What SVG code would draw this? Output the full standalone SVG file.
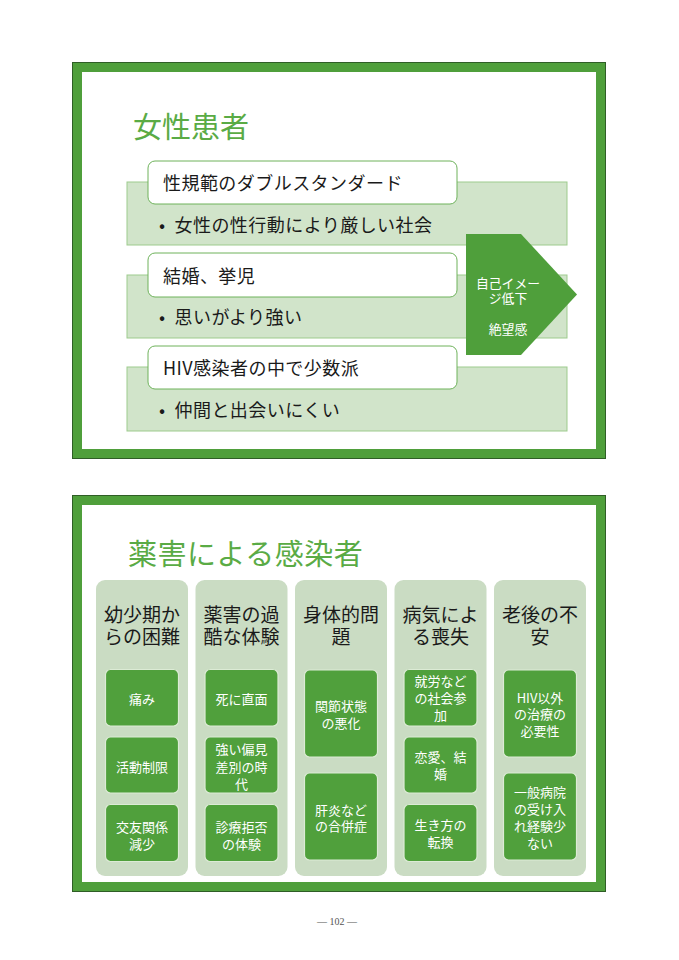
<svg xmlns="http://www.w3.org/2000/svg" width="679" height="960" viewBox="0 0 679 960">
<style>
text{font-family:"Noto Sans CJK JP","Noto Sans",sans-serif;dominant-baseline:central}
tspan{dominant-baseline:central}
.frame{fill:#fff;stroke:#4f9f3b;stroke-width:10}
.edge{fill:none;stroke:#2f5e26;stroke-width:1}
.title{fill:#5aab45;font-size:29px}
.t2{letter-spacing:0.5px}
.band{fill:#d1e4ca;stroke:#9dcb8d;stroke-width:1}
.card{fill:#fff;stroke:#6eb25b;stroke-width:1}
.t18{fill:#1a1a1a;font-size:18px;letter-spacing:0.45px}
.arrow{fill:#4f9f3b}
.wt{fill:#fff;font-size:12.8px;text-anchor:middle}
.col{fill:#cadcc3}
.hd{fill:#1a1a1a;font-size:19px;text-anchor:middle}
.box{fill:#50a03c;stroke:#dcebd5;stroke-width:1.2}
.bt{fill:#fff;font-size:13px;text-anchor:middle}
.pg{font-family:"Liberation Serif",serif;font-size:10px;fill:#555;text-anchor:middle}
</style>
<rect width="679" height="960" fill="#fff"/>

<!-- Slide 1 -->
<g id="slide1">
<rect class="frame" x="77" y="67" width="524" height="387"/>
<rect class="edge" x="72.5" y="62.5" width="533" height="396"/>
<text class="title" x="133" y="124.5">女性患者</text>
</g>
<g id="item1">
<rect class="band" x="127" y="182" width="440" height="63"/>
<rect class="card" x="148" y="161" width="309" height="43" rx="7"/>
<text class="t18" x="163" y="181.5">性規範のダブルスタンダード</text>
<text class="t18" x="159" y="224">•<tspan x="174.5" y="224">女性の性行動により厳しい社会</tspan></text>
</g>
<g id="item2">
<rect class="band" x="127" y="275" width="440" height="63"/>
<rect class="card" x="148" y="253" width="309" height="44" rx="7"/>
<text class="t18" x="163" y="274.5">結婚、挙児</text>
<text class="t18" x="159" y="315.5">•<tspan x="174.5" y="315.5">思いがより強い</tspan></text>
</g>
<g id="item3">
<rect class="band" x="127" y="367" width="440" height="64"/>
<rect class="card" x="148" y="346" width="309" height="43" rx="7"/>
<text class="t18" x="163" y="367">HIV感染者の中で少数派</text>
<text class="t18" x="159" y="409">•<tspan x="174.5" y="409">仲間と出会いにくい</tspan></text>
</g>
<g id="arrow">
<polygon class="arrow" points="466,234 521,234 577,294.5 521,355 466,355"/>
<text class="wt"><tspan x="508" y="281.5">自己イメー</tspan><tspan x="508" y="297">ジ低下</tspan><tspan x="508" y="328">絶望感</tspan></text>
</g>

<!-- Slide 2 -->
<g id="slide2">
<rect class="frame" x="77" y="500" width="524" height="387"/>
<rect class="edge" x="72.5" y="495.5" width="533" height="396"/>
<text class="title t2" x="128" y="552">薬害による感染者</text>
</g>
<g id="col1">
<rect class="col" x="96" y="580" width="92" height="296" rx="9"/>
<text class="hd"><tspan x="142" y="612.5">幼少期か</tspan><tspan x="142" y="635">らの困難</tspan></text>
<rect class="box" x="105.5" y="669.5" width="73" height="56.5" rx="5"/>
<text class="bt" x="142" y="698">痛み</text>
<rect class="box" x="105.5" y="737" width="73" height="56" rx="5"/>
<text class="bt" x="142" y="766">活動制限</text>
<rect class="box" x="105.5" y="804.5" width="73" height="57" rx="5"/>
<text class="bt"><tspan x="142" y="825.5">交友関係</tspan><tspan x="142" y="843">減少</tspan></text>
</g>
<g id="col2">
<rect class="col" x="195.5" y="580" width="92" height="296" rx="9"/>
<text class="hd"><tspan x="241.5" y="612.5">薬害の過</tspan><tspan x="241.5" y="635">酷な体験</tspan></text>
<rect class="box" x="205" y="669.5" width="73" height="56.5" rx="5"/>
<text class="bt" x="241.5" y="698">死に直面</text>
<rect class="box" x="205" y="737" width="73" height="56" rx="5"/>
<text class="bt"><tspan x="241.5" y="747.5">強い偏見</tspan><tspan x="241.5" y="765.5">差別の時</tspan><tspan x="241.5" y="782.5">代</tspan></text>
<rect class="box" x="205" y="804.5" width="73" height="57" rx="5"/>
<text class="bt"><tspan x="241.5" y="825.5">診療拒否</tspan><tspan x="241.5" y="843">の体験</tspan></text>
</g>
<g id="col3">
<rect class="col" x="295" y="580" width="92" height="296" rx="9"/>
<text class="hd"><tspan x="341" y="612.5">身体的問</tspan><tspan x="341" y="635">題</tspan></text>
<rect class="box" x="304.5" y="670" width="73" height="87" rx="5"/>
<text class="bt"><tspan x="341" y="705">関節状態</tspan><tspan x="341" y="721.5">の悪化</tspan></text>
<rect class="box" x="304.5" y="773" width="73" height="87" rx="5"/>
<text class="bt"><tspan x="341" y="808.5">肝炎など</tspan><tspan x="341" y="825">の合併症</tspan></text>
</g>
<g id="col4">
<rect class="col" x="394.5" y="580" width="92" height="296" rx="9"/>
<text class="hd"><tspan x="440.5" y="612.5">病気によ</tspan><tspan x="440.5" y="635">る喪失</tspan></text>
<rect class="box" x="404" y="669.5" width="73" height="56.5" rx="5"/>
<text class="bt"><tspan x="440.5" y="679.5">就労など</tspan><tspan x="440.5" y="697">の社会参</tspan><tspan x="440.5" y="714">加</tspan></text>
<rect class="box" x="404" y="737" width="73" height="56" rx="5"/>
<text class="bt"><tspan x="440.5" y="756">恋愛、結</tspan><tspan x="440.5" y="773">婚</tspan></text>
<rect class="box" x="404" y="804.5" width="73" height="57" rx="5"/>
<text class="bt"><tspan x="440.5" y="823.5">生き方の</tspan><tspan x="440.5" y="841">転換</tspan></text>
</g>
<g id="col5">
<rect class="col" x="494" y="580" width="92" height="296" rx="9"/>
<text class="hd"><tspan x="540" y="612.5">老後の不</tspan><tspan x="540" y="635">安</tspan></text>
<rect class="box" x="503.5" y="670" width="73" height="87" rx="5"/>
<text class="bt"><tspan x="540" y="696.5">HIV以外</tspan><tspan x="540" y="713">の治療の</tspan><tspan x="540" y="729.5">必要性</tspan></text>
<rect class="box" x="503.5" y="773" width="73" height="87" rx="5"/>
<text class="bt"><tspan x="540" y="790.5">一般病院</tspan><tspan x="540" y="807.5">の受け入</tspan><tspan x="540" y="824.5">れ経験少</tspan><tspan x="540" y="841.5">ない</tspan></text>
</g>
<g id="connectors"/>
<text class="pg" x="337" y="921">— 102 —</text>
</svg>
